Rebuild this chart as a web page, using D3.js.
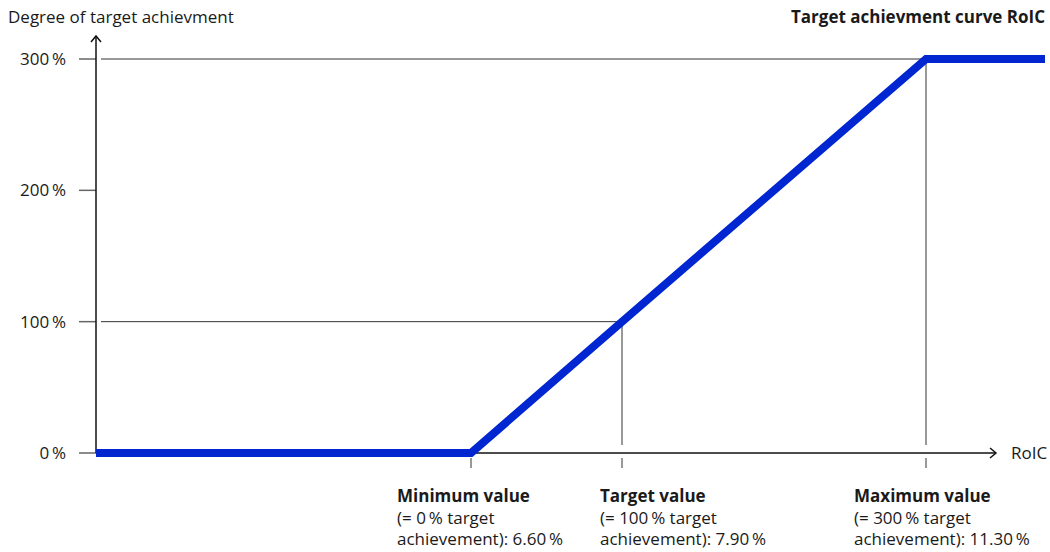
<!DOCTYPE html>
<html>
<head>
<meta charset="utf-8">
<script src="https://cdn.jsdelivr.net/npm/d3@7"></script>
<style>
  body { margin: 0; background: #fff; }
  text { font-family: "Open Sans", sans-serif; fill: #1a1a1a; }
</style>
</head>
<body>
<div id="chart"></div>
<script>
// curve points (RoIC in %, target achievement in %)
const roicPoints = [5.0, 6.6, 7.9, 11.3, 12.5];
const achievement = [0, 0, 100, 300, 300];
const yTicks = [0, 100, 200, 300];
const markers = [
  { roic: 6.6, level: 0, title: "Minimum value", lines: ["(= 0\u2009% target", "achievement): 6.60\u2009%"] },
  { roic: 7.9, level: 100, title: "Target value", lines: ["(= 100\u2009% target", "achievement): 7.90\u2009%"] },
  { roic: 11.3, level: 300, title: "Maximum value", lines: ["(= 300\u2009% target", "achievement): 11.30\u2009%"] }
];

const width = 1050, height = 552;
const fs = 17;
const svg = d3.select("#chart").append("svg")
  .attr("width", width).attr("height", height);

// schematic axis: piecewise linear
const x = d3.scaleLinear().domain(roicPoints).range([96, 471, 622, 926, 1045]);
const y = d3.scaleLinear().domain([0, 300]).range([453, 59]);
const x0 = 96, y0 = y(0);

// gridlines to the marker points
markers.filter(m => m.level > 0).forEach(m => {
  svg.append("line")
    .attr("x1", x0 + 5).attr("x2", x(m.roic))
    .attr("y1", y(m.level)).attr("y2", y(m.level))
    .attr("stroke", "#333").attr("stroke-width", 1);
  svg.append("line")
    .attr("x1", x(m.roic)).attr("x2", x(m.roic))
    .attr("y1", y(m.level)).attr("y2", y0 - 8)
    .attr("stroke", "#333").attr("stroke-width", 1);
});

// marker ticks below x axis
svg.append("g").selectAll("line").data(markers).join("line")
  .attr("x1", d => x(d.roic)).attr("x2", d => x(d.roic))
  .attr("y1", y0 + 5).attr("y2", y0 + 15)
  .attr("stroke", "#333").attr("stroke-width", 1);

// y ticks and labels
svg.append("g").selectAll("line").data(yTicks).join("line")
  .attr("x1", x0 - 17).attr("x2", x0)
  .attr("y1", d => y(d)).attr("y2", d => y(d))
  .attr("stroke", "#666").attr("stroke-width", 1.5);
svg.append("g").selectAll("text").data(yTicks).join("text")
  .attr("x", 66).attr("y", d => y(d) + 6)
  .attr("text-anchor", "end").attr("font-size", fs)
  .text(d => d + "\u2009%");

// axes
svg.append("line").attr("x1", x0).attr("x2", x0).attr("y1", y0).attr("y2", 36)
  .attr("stroke", "#111").attr("stroke-width", 1.5);
svg.append("path").attr("d", `M${x0 - 5},${42} L${x0},${36} L${x0 + 5},${42}`)
  .attr("fill", "none").attr("stroke", "#111").attr("stroke-width", 1.5);
svg.append("line").attr("x1", x0).attr("x2", 996).attr("y1", y0).attr("y2", y0)
  .attr("stroke", "#111").attr("stroke-width", 1.5);
svg.append("path").attr("d", `M${990},${y0 - 5} L${996},${y0} L${990},${y0 + 5}`)
  .attr("fill", "none").attr("stroke", "#111").attr("stroke-width", 1.5);

// curve
const pts = roicPoints.map((r, i) => [r, achievement[i]]);
svg.append("path").datum(pts)
  .attr("d", d3.line().x(d => x(d[0])).y(d => y(d[1])))
  .attr("fill", "none").attr("stroke", "#0026d1").attr("stroke-width", 8)
  .attr("stroke-linejoin", "miter");

// texts
svg.append("text").attr("x", 8).attr("y", 23).attr("font-size", fs)
  .text("Degree of target achievment");
svg.append("text").attr("x", 1045).attr("y", 23).attr("font-size", fs)
  .attr("text-anchor", "end").attr("font-weight", "bold")
  .text("Target achievment curve RoIC");
svg.append("text").attr("x", 1011).attr("y", y0 + 6).attr("font-size", fs).text("RoIC");

const labelX = [397, 600, 854];
markers.forEach((m, i) => {
  const t = svg.append("text").attr("x", labelX[i]).attr("y", 502).attr("font-size", fs);
  t.append("tspan").attr("font-weight", "bold").text(m.title);
  m.lines.forEach(l => t.append("tspan").attr("x", labelX[i]).attr("dy", 21.5).text(l));
});
</script>
</body>
</html>
